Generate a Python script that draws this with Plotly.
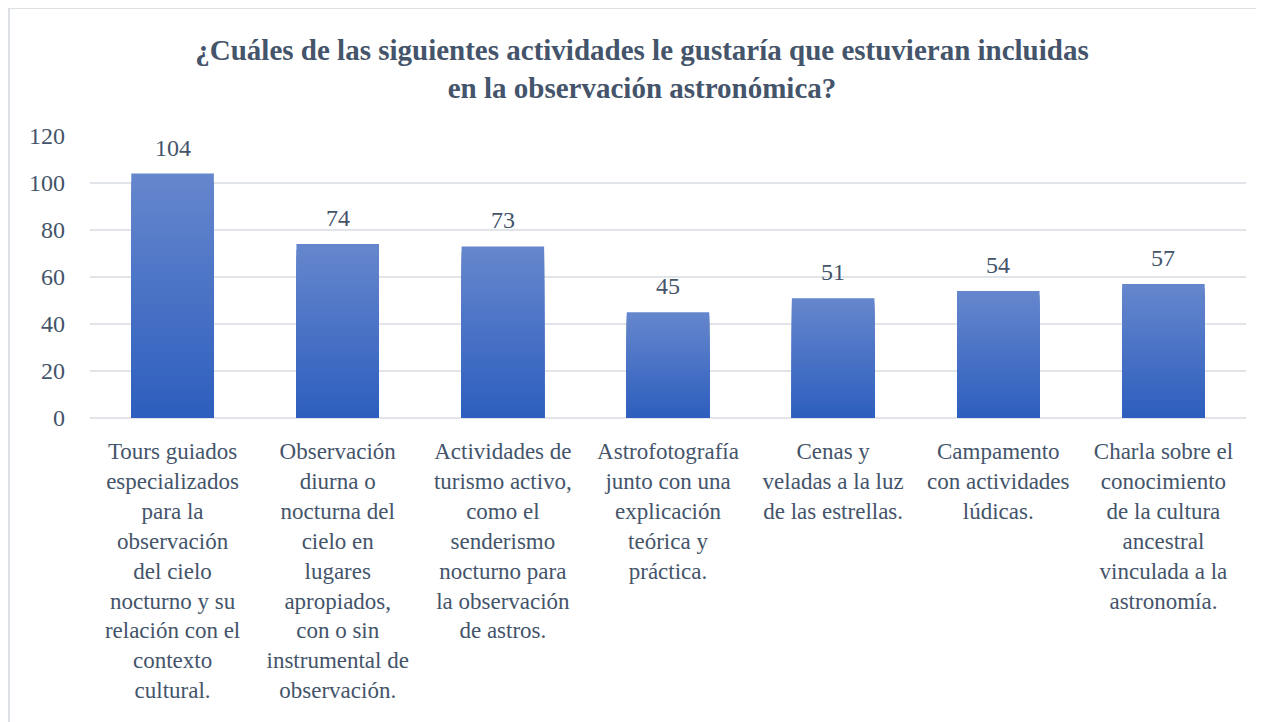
import plotly.graph_objects as go

# datos de la encuesta
actividades = [
    "Tours guiados<br>especializados<br>para la<br>observación<br>del cielo<br>nocturno y su<br>relación con el<br>contexto<br>cultural.",
    "Observación<br>diurna o<br>nocturna del<br>cielo en<br>lugares<br>apropiados,<br>con o sin<br>instrumental de<br>observación.",
    "Actividades de<br>turismo activo,<br>como el<br>senderismo<br>nocturno para<br>la observación<br>de astros.",
    "Astrofotografía<br>junto con una<br>explicación<br>teórica y<br>práctica.",
    "Cenas y<br>veladas a la luz<br>de las estrellas.",
    "Campamento<br>con actividades<br>lúdicas.",
    "Charla sobre el<br>conocimiento<br>de la cultura<br>ancestral<br>vinculada a la<br>astronomía.",
]
respuestas = [104, 74, 73, 45, 51, 54, 57]

TITULO = "¿Cuáles de las siguientes actividades le gustaría que estuvieran incluidas<br>en la observación astronómica?"
FUENTE = "Times New Roman, Liberation Serif, serif"
GRIS = "#44546A"

# degradado de las barras (arriba claro, abajo oscuro)
c_arriba = (101, 134, 204)
c_abajo = (46, 95, 190)
pasos = 30

fig = go.Figure()
for k in range(pasos):
    t = k / (pasos - 1)
    col = tuple(round(a + (b - a) * t) for a, b in zip(c_arriba, c_abajo))
    frac = 1 - k / pasos
    fig.add_trace(go.Bar(
        x=actividades,
        y=[v * frac for v in respuestas],
        marker=dict(color="rgb(%d,%d,%d)" % col, line=dict(width=0)),
        hoverinfo="skip" if k else "x+y",
        showlegend=False,
    ))

# etiquetas de datos encima de cada barra
for cat, v in zip(actividades, respuestas):
    fig.add_annotation(x=cat, y=v, text=str(v), showarrow=False,
                       yanchor="bottom", yshift=11,
                       font=dict(family=FUENTE, size=24, color=GRIS))

# la página tiene 8px de margen en el body: se compensa en los márgenes
fig.update_layout(
    width=1264, height=722,
    barmode="overlay",
    bargap=0.5,
    plot_bgcolor="white",
    paper_bgcolor="white",
    margin=dict(l=82, r=26, t=128, b=312),
    font=dict(family=FUENTE, size=23, color=GRIS),
    title=dict(text="<b>" + TITULO + "</b>", x=0.5016, xanchor="center",
               y=1 - 52 / 722, yanchor="top",
               font=dict(family=FUENTE, size=29, color=GRIS)),
    xaxis=dict(showgrid=False, tickangle=0, ticklabelstandoff=17,
               showline=False, tickfont=dict(family=FUENTE, size=23, color=GRIS)),
    yaxis=dict(range=[0, 120], dtick=20, showgrid=True, gridcolor="#E1E4E8",
               gridwidth=2, zeroline=True, zerolinecolor="#E1E4E8", zerolinewidth=2,
               ticklabelstandoff=24, tickfont=dict(family=FUENTE, size=24, color=GRIS)),
    shapes=[dict(type="rect", xref="paper", yref="paper",
                 x0=(9 - 90) / 1156, x1=1.05, y0=-1.2, y1=1 + (136 - 8) / 282,
                 line=dict(color="#DDE1E6", width=2), layer="below")],
)

fig.write_html("out.html")
